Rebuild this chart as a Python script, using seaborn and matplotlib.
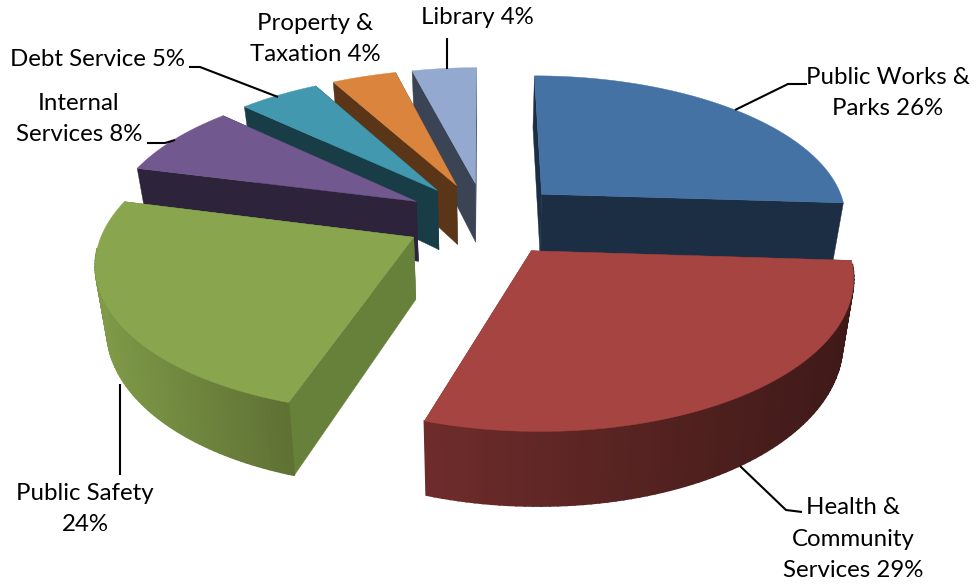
import numpy as np
import matplotlib
matplotlib.use("Agg")
import matplotlib.pyplot as plt
import seaborn as sns

# budget shares, clockwise from 12 o'clock
names = ['Public Works &\nParks 26%', 'Health &\nCommunity\nServices 29%', 'Public Safety\n24%',
         'Internal\nServices 8%', 'Debt Service 5%', 'Property &\nTaxation 4%', 'Library 4%']
shares = [26, 29, 24, 8, 5, 4, 4]

top_colors = ['#4472A4', '#A64441', '#89A54E', '#71588F', '#4198AF', '#DB843D', '#93A9CF']
wall_colors = ['#1C2E44', '#6B2A2A', '#67803A', '#2D233B', '#193D46', '#5A3518', '#3B4454']
arc_left = ['#2A4566', '#6E2C2B', '#7F9A48', '#43355A', '#275C6A', '#84501F', '#58667C']
arc_right = ['#1C2E44', '#3F1A18', '#5F7234', '#2D233B', '#193D46', '#5A3518', '#3B4454']

# back slices first so the front ones paint over them
draw_order = [6, 5, 4, 3, 0, 2, 1]

cx, cy = 485, 219
rx, ry = 307, 143
persp = 0.15
explode = 0.26
depth = 61
shrink = 0.97

sns.set_theme(style='white')
plt.rcParams['font.family'] = ['Lato', 'DejaVu Sans']


def project(u, v, lower=False):
    s = 1 / (1 - persp * v)
    x = rx * u * s
    y = ry * v * s
    if lower:
        return cx + x * shrink, cy + y + depth * s
    return cx + x, cy + y


edges = np.radians(np.concatenate([[0], np.cumsum(shares)]) * 3.6)

fig, ax = plt.subplots(figsize=(9.8, 5.86), dpi=100)
fig.subplots_adjust(0, 0, 1, 1)
ax.set_xlim(0, 980)
ax.set_ylim(586, 0)
ax.axis('off')

for i in draw_order:
    a0, a1 = edges[i], edges[i + 1]
    mid = (a0 + a1) / 2
    ou, ov = explode * np.sin(mid), -explode * np.cos(mid)
    t = np.linspace(a0, a1, 80)
    u = ou + np.sin(t)
    v = ov - np.cos(t)

    # the two cut faces
    for end in (0, -1):
        xs = [project(ou, ov)[0], project(u[end], v[end])[0],
              project(u[end], v[end], True)[0], project(ou, ov, True)[0]]
        ys = [project(ou, ov)[1], project(u[end], v[end])[1],
              project(u[end], v[end], True)[1], project(ou, ov, True)[1]]
        ax.fill(xs, ys, color=wall_colors[i], lw=0.3)

    # outer wall, only the part that faces the viewer
    facing = np.cos(t) < -0.07
    if facing.sum() > 1:
        tx, ty = project(u, v)
        bx, by = project(u, v, True)
        idx = np.where(facing)[0]
        strip = sns.blend_palette([arc_left[i], arc_right[i]], 60)
        x_lo, x_hi = tx[idx].min(), tx[idx].max()
        for j in idx[:-1]:
            pos = (tx[j] - x_lo) / (x_hi - x_lo)
            ax.fill([tx[j], tx[j + 1], bx[j + 1], bx[j]], [ty[j], ty[j + 1], by[j + 1], by[j]],
                    color=strip[min(int(pos * 60), 59)], lw=1.2)

    # top face
    px, py = project(np.r_[ou, u], np.r_[ov, v])
    ax.fill(px, py, color=top_colors[i], lw=0.3)

# leader lines
leaders = [
    ([735, 788, 807], [110, 84, 84]),
    ([740, 786, 802], [466, 510, 512]),
    ([120, 120], [384, 475]),
    ([147, 165, 175], [143, 143, 140]),
    ([189, 200, 278], [67, 67, 97]),
    ([447, 447], [38, 69]),
]
for xs, ys in leaders:
    ax.plot(xs, ys, color='black', lw=1.5, solid_capstyle='butt')

label_x = [888, 853, 85, 79, 97, 315, 477]
label_y = [93, 539, 509, 119, 60, 39, 17]
for name, x, y in zip(names, label_x, label_y):
    ax.text(x, y, name, ha='center', va='center', fontsize=17.3, color='black', linespacing=1.62)

fig.savefig('out.png', dpi=100)
